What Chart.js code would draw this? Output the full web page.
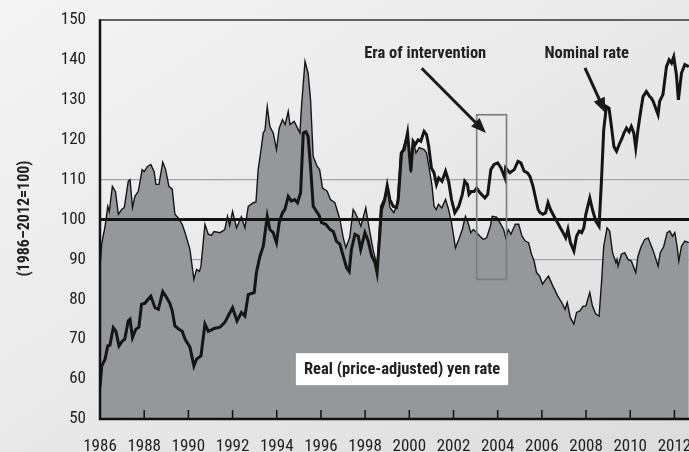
<!DOCTYPE html>
<html>
<head>
<meta charset="utf-8">
<script src="https://cdn.jsdelivr.net/npm/chart.js@4.4.1/dist/chart.umd.min.js"></script>
<style>
  html, body { margin: 0; padding: 0; }
  body { width: 689px; height: 452px; overflow: hidden; }
  #wrap {
    width: 689px; height: 452px; overflow: hidden; position: relative;
    background: linear-gradient(to bottom right, #f4f4f4 0%, #e9e9e9 50%, #dcdcdc 100%);
  }
  canvas { display: block; }
</style>
</head>
<body>
<div id="wrap"><canvas id="c" width="740" height="452"></canvas></div>
<script>
// ---------------- DATA ----------------
const xTickYears = [1986,1988,1990,1992,1994,1996,1998,2000,2002,2004,2006,2008,2010,2012];
const yTickValues = [50,60,70,80,90,100,110,120,130,140,150];

const realYears = [1986.00,1986.08,1986.23,1986.35,1986.42,1986.56,1986.70,1986.83,1986.98,1987.10,1987.28,1987.36,1987.47,1987.58,1987.73,1987.91,1988.00,1988.15,1988.30,1988.45,1988.53,1988.67,1988.84,1988.97,1989.12,1989.27,1989.39,1989.54,1989.72,1989.85,1990.07,1990.25,1990.37,1990.50,1990.57,1990.75,1990.90,1991.05,1991.16,1991.43,1991.65,1991.77,1991.87,1992.00,1992.18,1992.40,1992.56,1992.71,1992.94,1993.06,1993.16,1993.27,1993.39,1993.47,1993.57,1993.69,1993.84,1993.99,1994.11,1994.26,1994.38,1994.52,1994.60,1994.79,1994.94,1995.05,1995.12,1995.28,1995.42,1995.53,1995.65,1995.83,1995.94,1996.07,1996.28,1996.43,1996.63,1996.86,1997.01,1997.13,1997.30,1997.46,1997.55,1997.66,1997.81,1998.03,1998.18,1998.36,1998.54,1998.70,1998.85,1999.00,1999.12,1999.30,1999.45,1999.60,1999.70,1999.92,2000.07,2000.20,2000.30,2000.45,2000.67,2000.78,2000.90,2001.03,2001.12,2001.22,2001.32,2001.47,2001.64,2001.76,2001.91,2002.09,2002.24,2002.40,2002.54,2002.66,2002.78,2002.90,2003.05,2003.20,2003.35,2003.50,2003.67,2003.75,2003.95,2004.10,2004.27,2004.37,2004.48,2004.60,2004.80,2004.95,2005.10,2005.25,2005.40,2005.53,2005.65,2005.76,2005.90,2006.03,2006.18,2006.30,2006.50,2006.72,2006.90,2007.05,2007.15,2007.29,2007.45,2007.57,2007.72,2007.87,2007.99,2008.17,2008.29,2008.44,2008.59,2008.70,2008.80,2008.95,2009.07,2009.20,2009.35,2009.40,2009.45,2009.60,2009.75,2009.90,2010.05,2010.25,2010.35,2010.50,2010.66,2010.81,2010.96,2011.07,2011.26,2011.36,2011.52,2011.67,2011.79,2011.91,2012.02,2012.12,2012.20,2012.32,2012.47,2012.65];
const realValues = [88,94,98.3,103.3,102,108.3,107,101.3,102.5,103,109.6,110,103,105.8,107,112.5,112,113.3,113.8,112,108.8,108.8,114.4,112.5,108.3,107.6,101.3,100.4,98.8,96.7,92.5,85,87.5,87,88.3,98.8,96.3,96,97,96.7,97.5,100.8,98.5,102,97.9,100.7,97.9,103.3,104.2,104.4,112.5,116.7,121.7,122.5,128.3,123.3,121.7,117.5,122.9,125,123.8,127.1,123.8,124.6,122.9,121.7,128.3,139.6,136.7,130,115.8,113.3,112.5,107.9,107.1,105,104.2,100,95.4,92.9,95.4,102.5,101.7,100.4,98.3,102.9,97.9,92.5,88.3,103.3,105,108.5,103,101.7,103.8,116.7,117.5,121.7,111.7,119.2,116.7,118,117.5,116.7,112.9,108.3,103.3,102.5,103.8,102.9,105,102.9,99.2,92.9,95,97.5,100.8,99.2,96.7,97.5,96.7,95.8,95,95.4,98.3,100.8,100.6,99.2,97.5,95.4,97.5,96.3,98.8,98.8,95.8,94.6,94.2,91.3,89.6,86.7,85.8,83.8,85,85.8,83.3,80.8,79.2,77.5,79.2,75.4,73.8,76.7,77.1,78.3,78.3,81.7,78.3,76.3,75.8,84.2,93.3,97.9,97.1,91.7,89.2,90,88.3,91.3,91.7,90,89.6,86.7,90.8,93.3,95,95.4,93.3,91.7,88.3,91.7,93.3,96.7,97.1,95.8,96.7,93.3,89.6,93.3,94.6,94.2];

const nominalYears = [1986.00,1986.08,1986.23,1986.35,1986.45,1986.60,1986.72,1986.86,1987.00,1987.12,1987.28,1987.36,1987.47,1987.62,1987.76,1987.88,1988.03,1988.18,1988.30,1988.49,1988.64,1988.84,1989.01,1989.16,1989.27,1989.39,1989.57,1989.72,1989.85,1990.07,1990.25,1990.37,1990.57,1990.75,1990.90,1991.03,1991.16,1991.43,1991.65,1991.80,1992.00,1992.20,1992.40,1992.56,1992.71,1992.98,1993.08,1993.24,1993.39,1993.57,1993.69,1993.84,1993.99,1994.11,1994.26,1994.37,1994.52,1994.66,1994.81,1994.94,1995.08,1995.20,1995.32,1995.42,1995.53,1995.65,1995.80,1995.92,1996.03,1996.22,1996.41,1996.56,1996.70,1996.86,1997.01,1997.16,1997.28,1997.38,1997.54,1997.69,1997.80,1997.99,1998.14,1998.30,1998.45,1998.54,1998.66,1998.74,1998.89,1999.00,1999.12,1999.27,1999.42,1999.50,1999.65,1999.77,1999.92,2000.07,2000.17,2000.27,2000.40,2000.52,2000.67,2000.78,2000.88,2001.00,2001.12,2001.23,2001.33,2001.48,2001.64,2001.78,2001.91,2002.06,2002.24,2002.40,2002.51,2002.63,2002.70,2002.80,2002.93,2003.05,2003.20,2003.42,2003.55,2003.69,2003.84,2004.00,2004.15,2004.33,2004.36,2004.55,2004.75,2004.92,2005.05,2005.20,2005.35,2005.46,2005.60,2005.73,2005.83,2005.92,2006.05,2006.17,2006.28,2006.39,2006.55,2006.67,2006.80,2006.96,2007.08,2007.18,2007.29,2007.45,2007.57,2007.69,2007.80,2007.90,2007.99,2008.17,2008.29,2008.44,2008.59,2008.70,2008.80,2008.92,2009.04,2009.15,2009.26,2009.38,2009.50,2009.60,2009.72,2009.83,2009.95,2010.05,2010.16,2010.25,2010.35,2010.46,2010.58,2010.73,2010.88,2010.96,2011.04,2011.26,2011.33,2011.48,2011.64,2011.76,2011.87,2011.97,2012.09,2012.18,2012.32,2012.47,2012.65];
const nominalValues = [58,63.3,65,68.3,68.5,72.9,72,68.3,69.5,70,74.6,75,70.4,72.5,73,78.8,79,80,80.8,77.9,77.5,81.9,80.5,79,77.1,73.3,72.5,72,70,68,63.3,65,65.8,73.8,72,72.3,72.7,73,74.2,75.8,77.9,74.6,76.7,75.8,81.2,81.7,86.7,90.8,93.3,100.8,97.5,96.7,94.2,99.2,101.7,102.5,105.8,104.6,105,104.2,106.7,121.7,122,120.8,113.3,103.3,102,101,99.2,98.8,97.5,97,94.6,93.8,90.8,87.9,87,92.5,96.3,95.8,92.5,96.7,94.6,90.8,89.2,86.7,95.8,102.5,105,108.5,105,103.3,103,105,116.7,117.5,121.7,112.1,119.6,118.8,120,119.6,122.1,121.3,118.3,112.9,111.7,108.8,110.4,109.6,112.1,109.6,105,101.7,103.3,106.3,109.6,108.8,106.3,107,107,107.9,106.7,105.4,106.3,112.5,113.8,114.2,112.9,110.4,112.9,111.7,112.5,114.6,114.2,112.1,111.7,110.8,108.3,105,102.5,101.7,101.3,101.7,104.2,102.5,100.8,99.6,98.3,96.7,95.4,97.5,94.2,92.1,95.8,97.1,96.7,97.9,101.3,105.4,102.5,99.6,98.3,110,122.5,128.3,127.9,123.3,118.3,117.1,118.8,120,121.7,122.9,122,123.3,121.7,117.9,122.5,126.7,130.8,132.1,130.8,130.4,129.6,126.3,129.6,131.3,138.3,140,139.2,140.8,136.3,130,136.7,138.8,138.3];

// annotations (in data units)
const yTitle = '(1986–2012=100)';
const eraLabel = { text: 'Era of intervention', x: 2000.72, y: 141.5 };
const eraArrow = { x0: 2000.56, y0: 137.9, x1: 2003.47, y1: 121.7 };
const eraBox = { x0: 2003.05, x1: 2004.4, y0: 85, y1: 126.25 };
const nomLabel = { text: 'Nominal rate', x: 2008.03, y: 141.5 };
const nomArrow = { x0: 2007.95, y0: 138, x1: 2008.88, y1: 126.7 };
const realLabel = { text: 'Real (price-adjusted) yen rate', x: 1999.67, y: 62.5 };

// ---------------- CHART ----------------
const FONT = '"Liberation Sans Narrow", "Roboto Condensed", "DejaVu Sans Condensed", "Arial Narrow", sans-serif';
Chart.defaults.font.family = FONT;
Chart.defaults.color = '#222';

function pts(xs, ys) { return xs.map((x, i) => ({ x: x, y: ys[i] })); }

function arrow(ctx, x0, y0, x1, y1) {
  const ang = Math.atan2(y1 - y0, x1 - x0);
  const hl = 15, hw = 6;
  const bx = x1 - hl * Math.cos(ang), by = y1 - hl * Math.sin(ang);
  ctx.save();
  ctx.strokeStyle = '#1a1a1a'; ctx.fillStyle = '#1a1a1a';
  ctx.lineWidth = 3; ctx.lineCap = 'butt';
  ctx.beginPath(); ctx.moveTo(x0, y0); ctx.lineTo(bx + 2 * Math.cos(ang), by + 2 * Math.sin(ang)); ctx.stroke();
  ctx.beginPath();
  ctx.moveTo(x1, y1);
  ctx.lineTo(bx + hw * Math.sin(ang), by - hw * Math.cos(ang));
  ctx.lineTo(bx - hw * Math.sin(ang), by + hw * Math.cos(ang));
  ctx.closePath(); ctx.fill();
  ctx.restore();
}

const decor = {
  id: 'decor',
  afterDatasetsDraw(chart) {
    const ctx = chart.ctx, a = chart.chartArea;
    const xs = chart.scales.x, ys = chart.scales.y;
    const X = v => xs.getPixelForValue(v), Y = v => ys.getPixelForValue(v);
    ctx.save();
    // 100 reference line
    ctx.strokeStyle = '#111'; ctx.lineWidth = 3;
    ctx.beginPath(); ctx.moveTo(a.left, Y(100)); ctx.lineTo(a.right + 60, Y(100)); ctx.stroke();
    // top border
    ctx.strokeStyle = '#333'; ctx.lineWidth = 1.5;
    ctx.beginPath(); ctx.moveTo(a.left, a.top); ctx.lineTo(a.right + 60, a.top); ctx.stroke();
    // left & bottom axes
    ctx.strokeStyle = '#111'; ctx.lineWidth = 2.5;
    ctx.beginPath(); ctx.moveTo(a.left, a.top - 0.75); ctx.lineTo(a.left, a.bottom); ctx.lineTo(a.right + 60, a.bottom); ctx.stroke();
    // inner tick marks on x axis
    ctx.lineWidth = 1.5;
    xTickYears.forEach(v => {
      if (v === xTickYears[0]) return;
      const px = X(v);
      ctx.beginPath(); ctx.moveTo(px, a.bottom); ctx.lineTo(px, a.bottom - 9); ctx.stroke();
    });
    // era box
    ctx.strokeStyle = '#7c7c7c'; ctx.lineWidth = 1.6;
    ctx.strokeRect(X(eraBox.x0), Y(eraBox.y1), X(eraBox.x1) - X(eraBox.x0), Y(eraBox.y0) - Y(eraBox.y1));
    // arrows
    arrow(ctx, X(eraArrow.x0), Y(eraArrow.y0), X(eraArrow.x1), Y(eraArrow.y1));
    arrow(ctx, X(nomArrow.x0), Y(nomArrow.y0), X(nomArrow.x1), Y(nomArrow.y1));
    // labels
    ctx.font = 'bold 16.5px ' + FONT;
    ctx.fillStyle = '#222';
    ctx.textAlign = 'center'; ctx.textBaseline = 'middle';
    ctx.fillText(eraLabel.text, X(eraLabel.x), Y(eraLabel.y));
    ctx.fillText(nomLabel.text, X(nomLabel.x), Y(nomLabel.y));
    // real label box
    const w = ctx.measureText(realLabel.text).width;
    const cx = X(realLabel.x), cy = Y(realLabel.y);
    ctx.fillStyle = '#ffffff';
    ctx.fillRect(cx - w / 2 - 8, cy - 16, w + 16, 32);
    ctx.fillStyle = '#222';
    ctx.fillText(realLabel.text, cx, cy + 1);
    // y title
    ctx.save();
    ctx.translate(25, (a.top + a.bottom) / 2 - 1);
    ctx.rotate(-Math.PI / 2);
    ctx.font = 'bold 16px ' + FONT;
    ctx.fillStyle = '#222';
    ctx.fillText(yTitle, 0, 0);
    ctx.restore();
    ctx.restore();
  }
};

new Chart(document.getElementById('c'), {
  type: 'line',
  data: {
    datasets: [
      {
        label: 'Nominal rate',
        data: pts(nominalYears, nominalValues),
        borderColor: '#151515', borderWidth: 3,
        pointRadius: 0, tension: 0, fill: false, order: 0
      },
      {
        label: 'Real (price-adjusted) yen rate',
        data: pts(realYears, realValues),
        borderColor: '#151515', borderWidth: 1.4,
        backgroundColor: '#96979a',
        pointRadius: 0, tension: 0, fill: 'start', order: 1
      }
    ]
  },
  options: {
    responsive: false,
    animation: false,
    events: [],
    layout: { padding: { top: 20, right: 51, left: 0, bottom: 0 } },
    plugins: { legend: { display: false }, tooltip: { enabled: false } },
    scales: {
      x: {
        type: 'linear', min: 1986, max: 2012.66,
        grid: { display: false, drawTicks: false },
        border: { display: false },
        afterBuildTicks: s => { s.ticks = xTickYears.map(v => ({ value: v })); },
        afterFit: s => { s.height = 33; s.paddingLeft = 0; s.paddingRight = 0; },
        ticks: { padding: 18, font: { size: 17 }, color: '#222', autoSkip: false, maxRotation: 0, callback: v => String(v) }
      },
      y: {
        type: 'linear', min: 50, max: 150,
        grid: {
          drawTicks: false,
          color: c => (c.tick && (c.tick.value === 90 || c.tick.value === 110)) ? '#a2a2a2' : 'rgba(0,0,0,0)',
          lineWidth: 1.2
        },
        border: { display: false },
        afterBuildTicks: s => { s.ticks = yTickValues.map(v => ({ value: v })); },
        afterFit: s => { s.width = 100; s.paddingTop = 0; s.paddingBottom = 0; },
        ticks: { padding: 14, font: { size: 17 }, color: '#222', callback: v => String(v) }
      }
    }
  },
  plugins: [decor]
});
</script>
</body>
</html>
